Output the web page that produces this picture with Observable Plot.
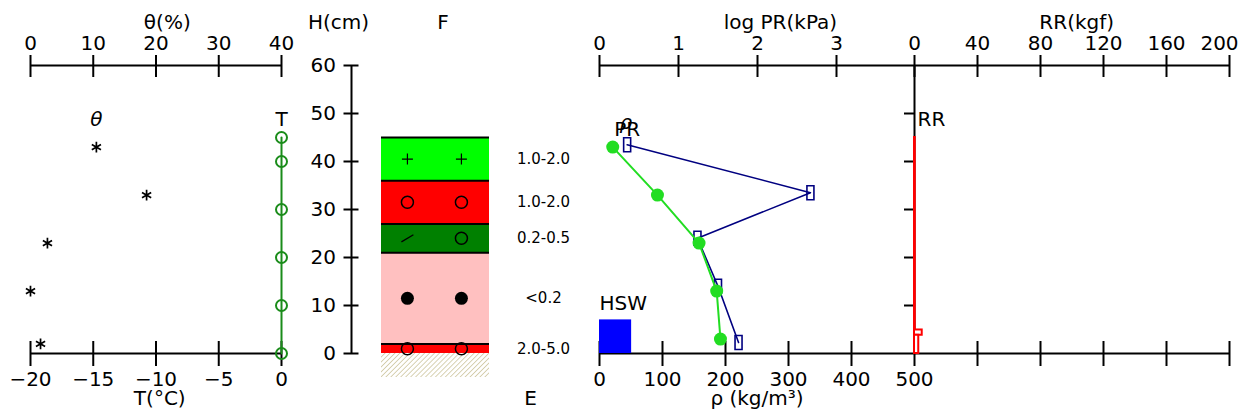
<!DOCTYPE html>
<html><head><meta charset="utf-8">
<script src="https://cdn.jsdelivr.net/npm/d3@7"></script>
<script src="https://cdn.jsdelivr.net/npm/@observablehq/plot@0.6"></script>
<style>
body{margin:0;background:#fff;}
#chart{position:relative;width:1246px;height:419px;font-family:"DejaVu Sans",sans-serif;}
#chart svg{position:absolute;left:0;top:0;overflow:visible;}
</style></head><body><div id="chart"></div>
<script>
// ---------- data ----------
const tempH = [45, 40, 30, 20, 10, 0];
const tempVal = [0, 0, 0, 0, 0, 0];
const thetaH = [43, 33, 23, 13, 2];
const thetaVal = [10.5, 18.5, 2.7, 0, 1.6];
const layerTop = [45, 36, 27, 21, 2];
const layerBottom = [36, 27, 21, 2, 0];
const layerColor = ["#00ff00", "#ff0000", "#008000", "#ffc0c0", "#ff0000"];
const grainA = ["+", "○", "/", "●", "○"];
const grainB = ["+", "○", "○", "●", "○"];
const grainSize = ["1.0-2.0", "1.0-2.0", "0.2-0.5", "<0.2", "2.0-5.0"];
const groundDepth = -5;
const densityH = [43, 33, 23, 13, 3];
const densityVal = [21, 92, 158, 186, 192];
const prH = [43.5, 33.5, 24, 14, 2.3];
const prLog = [0.35, 2.67, 1.24, 1.5, 1.76];
const rrTop = [45, 4.9, 3.8];
const rrBottom = [4.9, 3.8, 0];
const rrVal = [0.5, 4.9, 2.7];
const hswVal = 51;
const hswH = 7;
const thetaTicks = [0, 10, 20, 30, 40];
const tempTicks = [-20, -15, -10, -5, 0];
const hTicks = [0, 10, 20, 30, 40, 50, 60];
const rrHTicks = [10, 20, 30, 40, 50];
const prTicks = [0, 1, 2, 3];
const rrTicks = [0, 40, 80, 120, 160, 200];
const rhoTicks = [0, 100, 200, 300, 400, 500, 600, 700, 800, 900, 1000];
const rhoLabelMax = 500;

// ---------- tables ----------
const temp = tempH.map((h, i) => ({h, t: tempVal[i]}));
const theta = thetaH.map((h, i) => ({h, v: thetaVal[i]}));
const layers = layerTop.map((t, i) => ({top: t, bottom: layerBottom[i], color: layerColor[i], size: grainSize[i], mid: (t + layerBottom[i]) / 2}));
const grains = layers.flatMap((l, i) => [{col: 0.24, g: grainA[i], h: l.mid}, {col: 0.74, g: grainB[i], h: l.mid}]);
const density = densityH.map((h, i) => ({h, v: densityVal[i]}));
const pr = prH.map((h, i) => ({h, v: prLog[i]}));
const rr = rrTop.map((t, i) => ({top: t, bottom: rrBottom[i], v: rrVal[i]}));
const rrLast = rrTicks[rrTicks.length - 1];

// ---------- layout ----------
const W = 1246, HT = 419;
const font = "'DejaVu Sans', sans-serif";
const FS = 20;
const TITLE_DY = -51, BOTTOM_DY = 51;
const green = "#1a8c1a", dgreen = "#22dd22", navy = "#000080";
const fmt = (d) => d < 0 ? "−" + Math.abs(d) : String(d);
const base = (o) => Plot.plot({
  width: W, height: HT, marginTop: 65, marginBottom: 66,
  y: {domain: [0, 60], axis: null},
  style: {background: "none", overflow: "visible", fontFamily: font, fontSize: FS + "px", color: "black"},
  ...o
});
const topAxis = (ticks, extra = {}) => Plot.axisX({anchor: "top", ticks, tickSize: 22, dy: 11, tickPadding: 5, strokeWidth: 2, label: null, fontSize: FS, tickFormat: fmt, ...extra});
const botAxis = (ticks, extra = {}) => Plot.axisX({anchor: "bottom", ticks, tickSize: 25, dy: -12, tickPadding: 5, strokeWidth: 2, label: null, fontSize: FS, tickFormat: fmt, ...extra});

const rectSymbol = {draw(ctx, size) { const r = Math.sqrt(size / Math.PI); ctx.rect(-r / 2, -r, r, 2 * r); }};
const slashSymbol = {draw(ctx, size) { const r = Math.sqrt(size / Math.PI); ctx.moveTo(-r, r * 0.6); ctx.lineTo(r, -r * 0.6); }};
const plusSymbol = {draw(ctx, size) { const r = Math.sqrt(size / Math.PI); ctx.moveTo(-r, 0); ctx.lineTo(r, 0); ctx.moveTo(0, -r); ctx.lineTo(0, r); }};

const chart = document.getElementById("chart");

// left: temperature (bottom axis)
chart.append(base({
  marginLeft: 30, marginRight: W - 281,
  x: {domain: [-20, 0]},
  marks: [
    Plot.ruleY([0], {strokeWidth: 2}),
    botAxis(tempTicks),
    Plot.text(["T(°C)"], {x: -9.7, frameAnchor: "bottom", dy: BOTTOM_DY, fontSize: FS}),
    Plot.line(temp, {x: "t", y: "h", stroke: green, strokeWidth: 2}),
    Plot.dot(temp, {x: "t", y: "h", r: 5.5, stroke: green, strokeWidth: 2, fill: "none"}),
    Plot.text(temp.slice(0, 1), {x: "t", y: "h", text: () => "T", dy: -18, fontSize: FS})
  ]
}));

// left: water content theta (top axis)
chart.append(base({
  marginLeft: 30, marginRight: W - 281,
  x: {domain: [0, 40]},
  marks: [
    Plot.ruleY([60], {strokeWidth: 2}),
    topAxis(thetaTicks),
    Plot.text(["θ(%)"], {x: 21.8, frameAnchor: "top", dy: TITLE_DY, fontSize: FS}),
    Plot.dot(theta, {x: "v", y: "h", symbol: "asterisk", r: 5, stroke: "black", strokeWidth: 1.7}),
    Plot.text(theta.slice(0, 1), {x: "v", y: "h", text: () => "θ", dy: -28, fontSize: FS, fontStyle: "italic"})
  ]
}));

// middle: H axis
chart.append(base({
  marginLeft: 351, marginRight: W - 360,
  x: {domain: [0, 1], axis: null},
  marks: [
    Plot.ruleX([0], {strokeWidth: 2}),
    Plot.axisY({anchor: "left", ticks: hTicks, tickSize: 15, dx: 7.5, tickPadding: 8, strokeWidth: 2, label: null, fontSize: FS}),
    Plot.text(["H(cm)"], {frameAnchor: "top-left", textAnchor: "middle", dx: -13, dy: TITLE_DY, fontSize: FS})
  ]
}));

// middle: layers
const layerSvg = base({
  marginLeft: 381, marginRight: W - 489,
  x: {domain: [0, 1], axis: null},
  marks: [
    Plot.rect(layers, {y1: "bottom", y2: "top", fill: "color"}),
    Plot.rect([groundDepth], {y1: (d) => d, y2: () => 0, fill: "url(#hatch)"}),
    Plot.ruleY(layers, {y: "top", strokeWidth: 2}),
    Plot.dot(grains.filter((d) => d.g === "+"), {x: "col", y: "h", symbol: plusSymbol, r: 5.5, stroke: "black", strokeWidth: 1.2, fill: "none"}),
    Plot.dot(grains.filter((d) => d.g === "○"), {x: "col", y: "h", r: 6, stroke: "black", strokeWidth: 1.5, fill: "none"}),
    Plot.dot(grains.filter((d) => d.g === "●"), {x: "col", y: "h", r: 6.5, fill: "black"}),
    Plot.dot(grains.filter((d) => d.g === "/"), {x: "col", y: "h", symbol: slashSymbol, r: 6, stroke: "black", strokeWidth: 1.3, fill: "none"}),
    Plot.text(layers, {x: () => 1.5, y: "mid", text: "size", fontSize: 15}),
    Plot.text(["F"], {x: 0.57, frameAnchor: "top", dy: TITLE_DY, fontSize: FS}),
    Plot.text(["E"], {x: 1.38, frameAnchor: "bottom", dy: BOTTOM_DY, fontSize: FS})
  ]
});
const defs = document.createElementNS("http://www.w3.org/2000/svg", "defs");
defs.innerHTML = '<pattern id="hatch" width="3.5" height="3.5" patternUnits="userSpaceOnUse" patternTransform="rotate(45)"><line x1="0" y1="0" x2="0" y2="3.5" stroke="#b8ad74" stroke-width="1.1"/></pattern>';
layerSvg.insertBefore(defs, layerSvg.firstChild);
chart.append(layerSvg);

// right: density (bottom axis) + HSW
chart.append(base({
  marginLeft: 599, marginRight: W - 1229,
  x: {domain: [0, 1000]},
  marks: [
    Plot.ruleY([0], {strokeWidth: 2}),
    Plot.ruleY([60], {strokeWidth: 2}),
    botAxis(rhoTicks, {tickFormat: (d) => d <= rhoLabelMax ? String(d) : ""}),
    Plot.text(["ρ (kg/m³)"], {x: 250, frameAnchor: "bottom", dy: BOTTOM_DY, fontSize: FS}),
    Plot.rect([hswVal], {x1: () => 0, x2: (d) => d, y1: () => 0, y2: () => hswH, fill: "#0000ff"}),
    Plot.text([hswVal], {x: () => 0, y: () => hswH, text: () => "HSW", textAnchor: "start", dy: -16, fontSize: FS})
  ]
}));

// right: penetration resistance (log PR, top axis)
chart.append(base({
  marginLeft: 599, marginRight: W - 915,
  x: {domain: [0, 4]},
  marks: [
    topAxis(prTicks),
    Plot.text(["log PR(kPa)"], {x: 2.29, frameAnchor: "top", dy: TITLE_DY, fontSize: FS}),
    Plot.line(pr, {x: "v", y: "h", stroke: navy, strokeWidth: 1.6}),
    Plot.dot(pr, {x: "v", y: "h", symbol: rectSymbol, r: 7, stroke: navy, strokeWidth: 1.6, fill: "none"}),
    Plot.text(pr.slice(0, 1), {x: "v", y: "h", text: () => "PR", dy: -15, fontSize: FS})
  ]
}));

// right: density line on top
chart.append(base({
  marginLeft: 599, marginRight: W - 1229,
  x: {domain: [0, 1000], axis: null},
  marks: [
    Plot.line(density, {x: "v", y: "h", stroke: dgreen, strokeWidth: 2}),
    Plot.dot(density, {x: "v", y: "h", r: 6.5, fill: dgreen}),
    Plot.text(density.slice(0, 1), {x: "v", y: "h", text: () => "ρ", dx: 13, dy: -25, fontSize: FS, fontStyle: "italic"})
  ]
}));

// right: ram resistance RR (top axis)
chart.append(base({
  marginLeft: 914, marginRight: W - 1229,
  x: {domain: [0, 200]},
  marks: [
    Plot.ruleX([0], {strokeWidth: 2}),
    topAxis(rrTicks, {tickFormat: (d) => d === rrLast ? "" : String(d)}),
    Plot.text([rrLast], {x: (d) => d, text: (d) => String(d), frameAnchor: "top", lineAnchor: "bottom", dy: -16, dx: -10, fontSize: FS}),
    Plot.axisY({anchor: "left", ticks: rrHTicks, tickSize: 10, strokeWidth: 2, tickFormat: () => "", label: null}),
    Plot.text(["RR(kgf)"], {x: 103, frameAnchor: "top", dy: TITLE_DY, fontSize: FS}),
    Plot.rect(rr, {x1: () => 0, x2: "v", y1: "bottom", y2: "top", stroke: "#ff0000", strokeWidth: 2, fill: "white"}),
    Plot.text(rr.slice(0, 1), {x: () => 0, y: "top", text: () => "RR", textAnchor: "start", dx: 3, dy: -18, fontSize: FS})
  ]
}));
</script></body></html>
